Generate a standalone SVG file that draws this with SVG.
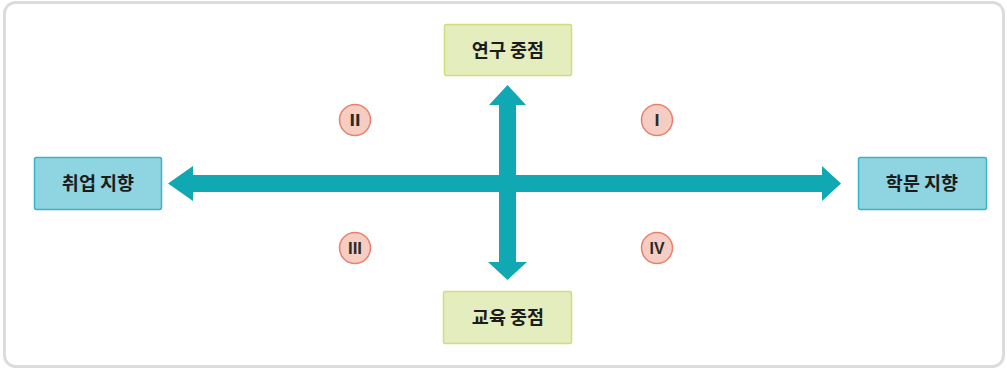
<svg xmlns="http://www.w3.org/2000/svg" width="1007" height="370" viewBox="0 0 1007 370">
<defs>
<style>
.green rect{fill:#e4edbe;stroke:#d3dc78;stroke-width:1.5}
.blue rect{fill:#8fd4e1;stroke:#35b4ca;stroke-width:1.5}
.lbl{font-family:"Noto Sans CJK KR","Noto Sans",sans-serif;font-weight:bold;font-size:18.5px;fill:#1c1c1c;text-anchor:middle}
.q circle{fill:#f6cdc3;stroke:#e9806e;stroke-width:1.5}
.q text{font-family:"Liberation Sans",sans-serif;font-weight:bold;font-size:17px;fill:#2a2a2a;text-anchor:middle}
.arr{fill:#0fa8b3}
</style>
</defs>
<rect x="0" y="0" width="1007" height="370" fill="#ffffff"/>
<rect x="4.5" y="2.5" width="999" height="364" rx="11" fill="#ffffff" stroke="#dcdcdc" stroke-width="3"/>

<g id="connectors">
<path class="arr" d="M168,183.5 L193,166 L193,175 L822,175 L822,166 L841,183.5 L822,201 L822,192 L193,192 L193,201 Z"/>
<path class="arr" d="M507.5,85 L526,105 L516,105 L516,262 L527,262 L507.5,280 L488,262 L499,262 L499,105 L489,105 Z"/>
</g>

<g id="node-research" class="green">
<rect x="444.5" y="24.5" width="127" height="51" rx="2"/>
<text class="lbl" x="508" y="57">연구 중점</text>
</g>
<g id="node-education" class="green">
<rect x="443.5" y="291.5" width="128" height="52" rx="2"/>
<text class="lbl" x="508" y="324">교육 중점</text>
</g>
<g id="node-employment" class="blue">
<rect x="34.5" y="157.5" width="127" height="52" rx="2"/>
<text class="lbl" x="98" y="190">취업 지향</text>
</g>
<g id="node-academic" class="blue">
<rect x="858.5" y="157.5" width="128" height="52" rx="2"/>
<text class="lbl" x="922" y="190">학문 지향</text>
</g>

<g id="q2" class="q"><circle cx="355" cy="120" r="15.5"/><text x="355" y="126" textLength="11" lengthAdjust="spacingAndGlyphs">II</text></g>
<g id="q1" class="q"><circle cx="657" cy="120" r="15.5"/><text x="657" y="126" textLength="5" lengthAdjust="spacingAndGlyphs">I</text></g>
<g id="q3" class="q"><circle cx="355" cy="248" r="15.5"/><text x="355" y="254" textLength="14" lengthAdjust="spacingAndGlyphs">III</text></g>
<g id="q4" class="q"><circle cx="657" cy="248" r="15.5"/><text x="657" y="254" textLength="15" lengthAdjust="spacingAndGlyphs">IV</text></g>
</svg>
